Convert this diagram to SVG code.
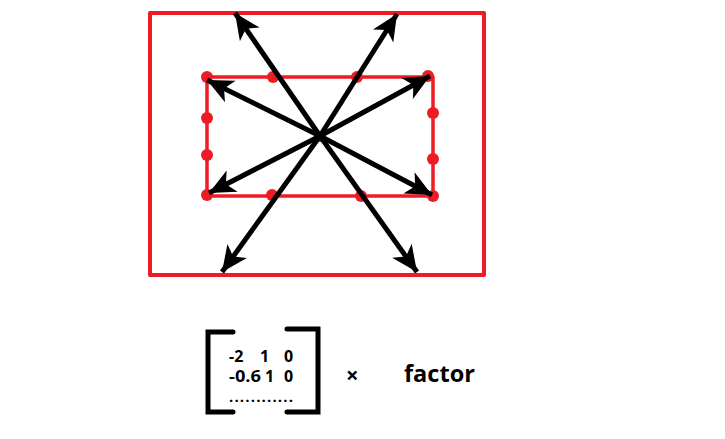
<svg xmlns="http://www.w3.org/2000/svg" width="725" height="439" viewBox="0 0 725 439">
<defs>
<style>
.red{fill:none;stroke:#ED1C24;stroke-linejoin:round;stroke-linecap:round}
.dot{fill:#ED1C24}
.arr{stroke:#000;stroke-width:5;fill:none}
.br{stroke:#000;stroke-width:5;fill:none;stroke-linecap:round;stroke-linejoin:miter}
.t{font-family:"Open Sans","DejaVu Sans",sans-serif;font-weight:bold;fill:#000}
</style>
<marker id="ah" markerUnits="userSpaceOnUse" viewBox="-27 -13 29 26" refX="0" refY="0" markerWidth="29" markerHeight="26" orient="auto">
<path d="M0,0 L-26,-12 L-19,0 L-26,12 Z" fill="#000"/>
</marker>
</defs>
<rect width="725" height="439" fill="#fff"/>
<g id="outer">
<rect class="red" x="150" y="13" width="334" height="262" stroke-width="4"/>
</g>
<g id="inner">
<rect class="red" x="207" y="77" width="226" height="119" stroke-width="3.5"/>
<circle class="dot" cx="207" cy="77" r="6"/>
<circle class="dot" cx="273" cy="77" r="6"/>
<circle class="dot" cx="357" cy="77" r="6"/>
<circle class="dot" cx="428" cy="76" r="6"/>
<circle class="dot" cx="207" cy="118" r="6"/>
<circle class="dot" cx="207" cy="155" r="6"/>
<circle class="dot" cx="433" cy="113" r="6"/>
<circle class="dot" cx="433" cy="159" r="6"/>
<circle class="dot" cx="207" cy="195" r="6"/>
<circle class="dot" cx="272" cy="195" r="6"/>
<circle class="dot" cx="361" cy="196" r="6"/>
<circle class="dot" cx="433" cy="196" r="6"/>
<circle class="dot" cx="321" cy="138" r="4"/>
</g>
<g id="connectors">
<line class="arr" x1="320" y1="136" x2="235" y2="13" marker-end="url(#ah)"/>
<line class="arr" x1="320" y1="136" x2="397" y2="14" marker-end="url(#ah)"/>
<line class="arr" x1="320" y1="136" x2="207" y2="80" marker-end="url(#ah)"/>
<line class="arr" x1="320" y1="136" x2="430" y2="76" marker-end="url(#ah)"/>
<line class="arr" x1="320" y1="136" x2="209" y2="193" marker-end="url(#ah)"/>
<line class="arr" x1="320" y1="136" x2="432" y2="195" marker-end="url(#ah)"/>
<line class="arr" x1="320" y1="136" x2="222" y2="272" marker-end="url(#ah)"/>
<line class="arr" x1="320" y1="136" x2="417" y2="272" marker-end="url(#ah)"/>
</g>
<g id="matrix">
<path class="br" d="M233,332 H208 V412 H233"/>
<path class="br" d="M287,329 H318 V412 H287"/>
<text class="t" font-size="16" y="362"><tspan x="229">-2</tspan><tspan x="260">1</tspan><tspan x="284">0</tspan></text>
<text class="t" font-size="16" y="382"><tspan x="229" textLength="32" lengthAdjust="spacingAndGlyphs">-0.6</tspan><tspan x="265">1</tspan><tspan x="284">0</tspan></text>
<text class="t" font-size="15" x="229" y="402" textLength="64" lengthAdjust="spacing">............</text>
</g>
<g id="times">
<text class="t" font-size="22" x="346" y="383">×</text>
</g>
<g id="factor">
<text class="t" font-size="23" x="404" y="382" textLength="71" lengthAdjust="spacingAndGlyphs">factor</text>
</g>
</svg>
